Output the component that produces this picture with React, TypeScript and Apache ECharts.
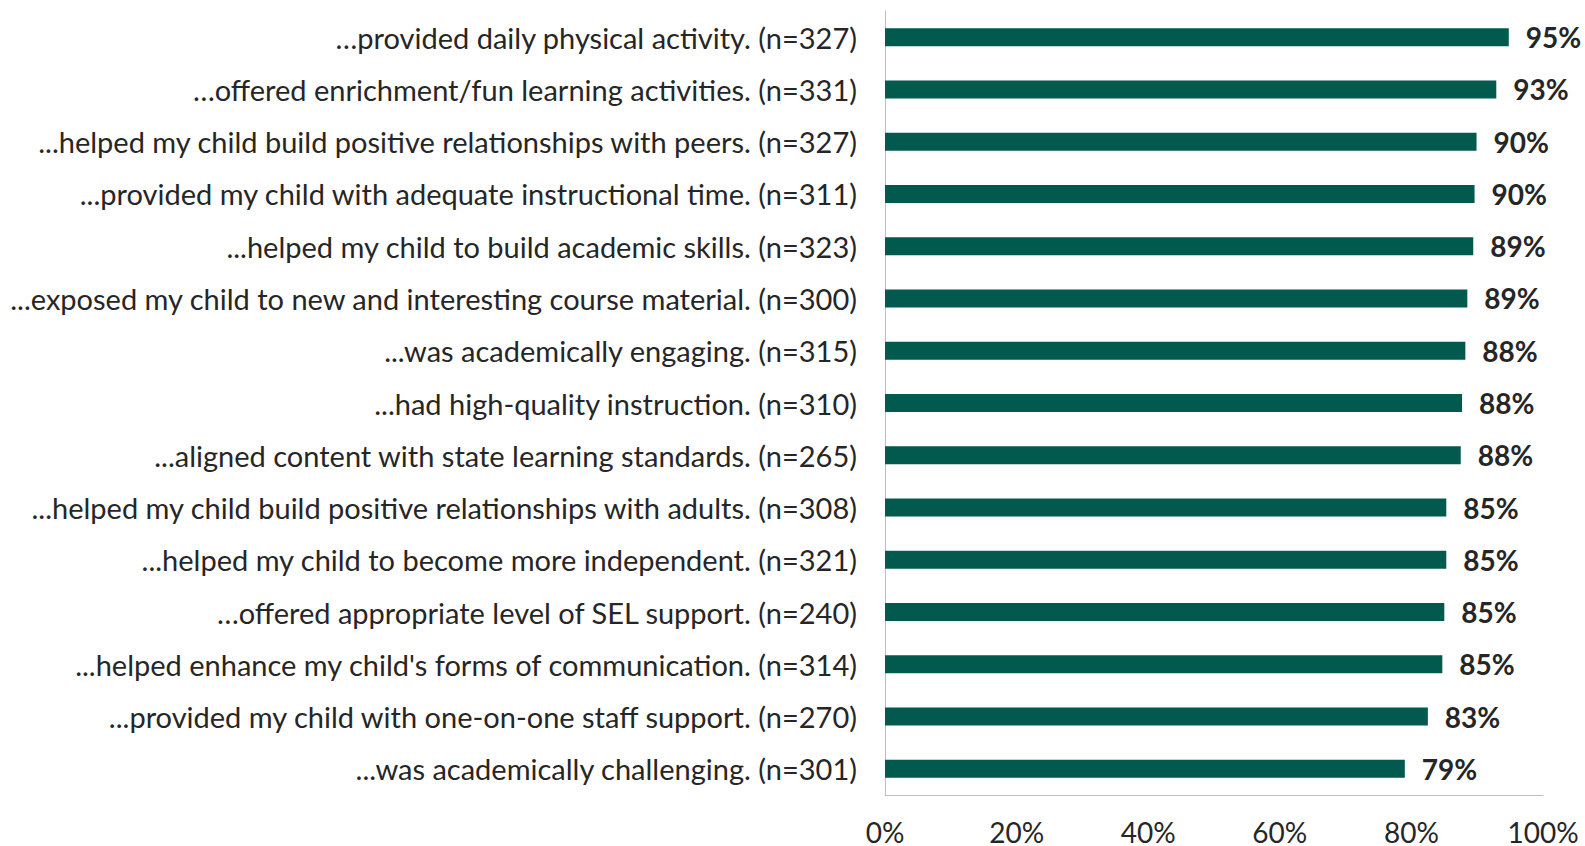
import React, { useEffect, useRef } from "react";
import * as echarts from "echarts";

const categories: string[] = [
  "…provided daily physical activity. (n=327)",
  "…offered enrichment/fun learning activities. (n=331)",
  "...helped my child build positive relationships with peers. (n=327)",
  "...provided my child with adequate instructional time. (n=311)",
  "...helped my child to build academic skills. (n=323)",
  "...exposed my child to new and interesting course material. (n=300)",
  "...was academically engaging. (n=315)",
  "...had high-quality instruction. (n=310)",
  "...aligned content with state learning standards. (n=265)",
  "...helped my child build positive relationships with adults. (n=308)",
  "...helped my child to become more independent. (n=321)",
  "…offered appropriate level of SEL support. (n=240)",
  "...helped enhance my child's forms of communication. (n=314)",
  "...provided my child with one-on-one staff support. (n=270)",
  "...was academically challenging. (n=301)",
];

const values: number[] = [
  94.8, 92.9, 89.9, 89.6, 89.4, 88.5, 88.2, 87.7, 87.5, 85.3, 85.3, 85.0, 84.7, 82.5, 79.0,
];

const xTicks: number[] = [0, 20, 40, 60, 80, 100];

export default function App() {
  const ref = useRef<HTMLDivElement>(null);
  useEffect(() => {
    if (!ref.current) return;
    const chart = echarts.init(ref.current, null, { renderer: "svg" });
    chart.setOption({
      animation: false,
      textStyle: { fontFamily: "Lato" },
      grid: { left: 885, right: 42, top: 11, bottom: 51, containLabel: false },
      xAxis: {
        type: "value",
        min: xTicks[0],
        max: xTicks[xTicks.length - 1],
        interval: 20,
        splitLine: { show: false },
        axisLine: { show: true, lineStyle: { color: "#bfbfbf", width: 1 } },
        axisTick: { show: false },
        axisLabel: {
          formatter: (v: number) => `${v}%`,
          fontFamily: "Lato",
          fontSize: 28,
          lineHeight: 24,
          color: "#262626",
          margin: 25,
        },
      },
      yAxis: {
        type: "category",
        inverse: true,
        data: categories,
        axisLine: { show: true, lineStyle: { color: "#bfbfbf", width: 1 } },
        axisTick: { show: false },
        axisLabel: {
          fontFamily: "Lato",
          fontSize: 29,
          color: "#262626",
          margin: 28,
        },
      },
      series: [
        {
          type: "bar",
          data: values,
          barWidth: 18,
          itemStyle: { color: "#025a4e" },
          label: {
            show: true,
            position: "right",
            distance: 17,
            formatter: (p: any) => `${Math.round(p.value)}%`,
            fontFamily: "Lato",
            fontWeight: "bold",
            fontSize: 28,
            color: "#262626",
          },
        },
      ],
    });
    return () => chart.dispose();
  }, []);
  return <div ref={ref} style={{ width: 1585, height: 846, position: "absolute", left: 0, top: 0 }} />;
}
